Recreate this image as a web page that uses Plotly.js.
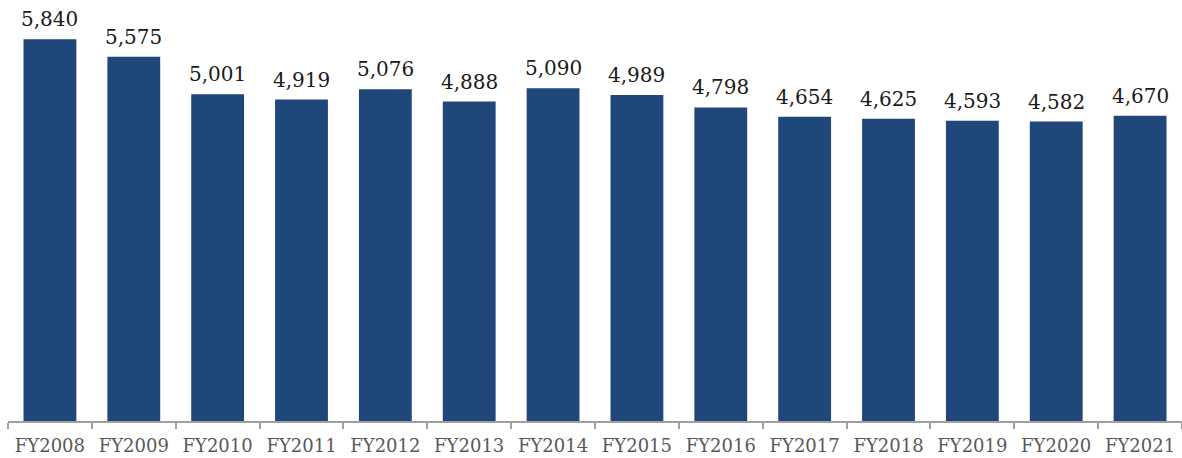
<!DOCTYPE html>
<html>
<head>
<meta charset="utf-8">
<script src="https://cdn.plot.ly/plotly-3.0.1.min.js"></script>
<style>html,body{margin:0;padding:0;background:#fff;}#chart{width:1182px;height:458px;}</style>
</head>
<body>
<div id="chart"></div>
<script>
var categories = ["FY2008","FY2009","FY2010","FY2011","FY2012","FY2013","FY2014","FY2015","FY2016","FY2017","FY2018","FY2019","FY2020","FY2021"];
var values = [5840,5575,5001,4919,5076,4888,5090,4989,4798,4654,4625,4593,4582,4670];
var valueLabels = ["5,840","5,575","5,001","4,919","5,076","4,888","5,090","4,989","4,798","4,654","4,625","4,593","4,582","4,670"];

var trace = {
  type: "bar",
  x: categories,
  y: values,
  marker: {color: "#1f477a"},
  hoverinfo: "x+y"
};

var annotations = categories.map(function(c, i){
  return {
    x: c, y: values[i], text: valueLabels[i],
    xref: "x", yref: "y", showarrow: false,
    yanchor: "bottom", yshift: 6,
    font: {family: "DejaVu Serif", size: 20, color: "#1a1a1a"}
  };
});

var layout = {
  width: 1182, height: 458,
  margin: {l: 8, r: 0, t: 20, b: 37},
  paper_bgcolor: "#fff", plot_bgcolor: "#fff",
  bargap: 0.37,
  showlegend: false,
  xaxis: {
    type: "category",
    showline: true, linecolor: "#a0a0a0", linewidth: 2,
    ticks: "outside", tickson: "boundaries", ticklen: 6, tickcolor: "#a0a0a0", tickwidth: 2,
    ticklabelstandoff: 7,
    tickfont: {family: "DejaVu Serif", size: 18, color: "#595959"},
    showgrid: false, zeroline: false
  },
  yaxis: {
    range: [0, 6136],
    visible: false, showgrid: false, zeroline: false
  },
  annotations: annotations
};

Plotly.newPlot("chart", [trace], layout, {displayModeBar: false, staticPlot: true});
</script>
</body>
</html>
